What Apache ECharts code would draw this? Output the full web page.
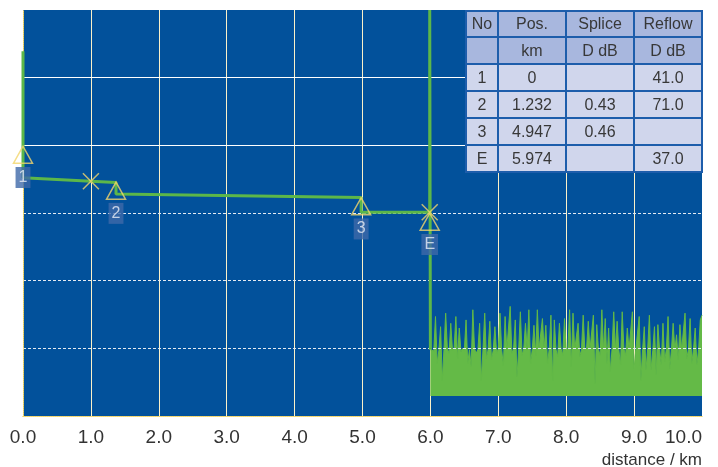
<!DOCTYPE html>
<html>
<head>
<meta charset="utf-8">
<title>OTDR trace</title>
<script src="https://cdn.jsdelivr.net/npm/echarts/dist/echarts.min.js"></script>
<style>
html, body { margin: 0; padding: 0; background: #fff; }
#chart { width: 718px; height: 467px; }
</style>
</head>
<body>
<div id="chart"></div>
<script>
// x axis ticks
var xTicks = [0, 1, 2, 3, 4, 5, 6, 7, 8, 9, 10];

// fibre trace (km, level)
var traceDist = [0, 0, 1.0, 1.37, 1.37, 4.98, 4.98, 5.99, 5.99, 6.0];
var traceLevel = [5.39, 3.52, 3.47, 3.45, 3.28, 3.23, 3.01, 3.01, 6.0, 0.98];

// events on the trace
var eventNames = ['1', '2', '3', 'E'];
var eventDist = [0, 1.37, 4.98, 5.99];
var eventLevel = [3.86, 3.33, 3.10, 2.87];

// cursors (x marks)
var cursorDist = [1.0, 5.99];
var cursorLevel = [3.47, 3.01];

// upper grid rows drawn as solid lines
var solidRows = [4, 5];

// noise floor after fibre end, sampled every 0.025 km from 6.0 km
var noiseStart = 6.0;
var noiseStep = 0.025;
var noiseBase = 0.295;
var noiseLevel = [
    0.98, 1.00, 0.96, 1.47, 0.78, 0.97, 1.32, 0.53, 0.98, 1.52,
    0.99, 0.93, 1.37, 0.97, 1.01, 1.47, 0.85, 1.30, 0.95, 1.00,
    0.97, 1.42, 0.78, 0.98, 0.73, 1.57, 0.99, 0.93, 0.98, 1.37,
    0.53, 0.99, 1.52, 0.85, 0.98, 1.40, 0.83, 0.97, 1.32, 0.93,
    0.99, 1.52, 0.97, 0.75, 1.47, 0.98, 1.00, 1.62, 0.93, 0.99,
    1.42, 0.58, 0.98, 1.54, 0.90, 0.99, 1.37, 0.97, 1.57, 0.78,
    0.98, 1.34, 0.90, 1.57, 0.99, 0.97, 1.44, 0.98, 1.34, 0.78,
    0.99, 1.49, 0.53, 1.42, 0.98, 0.88, 1.37, 0.99, 0.90, 1.44,
    0.97, 1.00, 1.57, 0.73, 1.52, 0.98, 0.99, 1.37, 0.88, 0.98,
    1.49, 0.97, 1.00, 1.40, 0.98, 0.99, 1.49, 0.48, 1.35, 0.98,
    0.90, 1.57, 0.97, 1.44, 0.78, 1.30, 0.66, 0.99, 1.54, 0.97,
    1.40, 0.98, 0.76, 1.54, 0.99, 0.90, 1.30, 0.98, 1.00, 1.54,
    0.70, 0.98, 0.99, 1.47, 0.53, 0.98, 1.32, 0.68, 0.99, 1.49,
    0.68, 0.97, 1.32, 0.61, 1.35, 0.98, 0.76, 1.37, 0.80, 0.99,
    1.47, 0.70, 0.98, 1.37, 0.97, 1.20, 0.83, 1.35, 0.98, 0.99,
    1.52, 0.85, 0.98, 1.44, 0.78, 0.99, 1.30, 0.76, 0.98, 1.42,
    1.49
];

// event table
var tableHead = ['No', 'Pos.', 'Splice', 'Reflow'];
var tableUnits = ['', 'km', 'D dB', 'D dB'];
var tableRows = [
    ['1', '0', '', '41.0'],
    ['2', '1.232', '0.43', '71.0'],
    ['3', '4.947', '0.46', ''],
    ['E', '5.974', '', '37.0']
];

var FONT = '"Liberation Sans", Arial, sans-serif';
var YELLOW = '#f3d66c';

var echart = echarts.init(document.getElementById('chart'));

// table cells as graphic elements
var colX = [466, 498, 566, 634, 702];
var rowY = [11, 37, 64, 91, 118, 145, 172];
var tableElems = [];
[tableHead, tableUnits].concat(tableRows).forEach(function (row, r) {
    row.forEach(function (txt, c) {
        tableElems.push({
            type: 'rect',
            z: 100,
            shape: { x: colX[c], y: rowY[r], width: colX[c + 1] - colX[c], height: rowY[r + 1] - rowY[r] },
            style: { fill: r < 2 ? '#a8b7de' : '#d0d6ec', stroke: '#1d5dab', lineWidth: 2 }
        });
        tableElems.push({
            type: 'text',
            z: 101,
            x: (colX[c] + colX[c + 1]) / 2,
            y: (rowY[r] + rowY[r + 1]) / 2 + 1,
            style: {
                text: txt,
                fill: '#383838',
                font: '16px ' + FONT,
                align: 'center',
                verticalAlign: 'middle',
                textAlign: 'center',
                textVerticalAlign: 'middle'
            }
        });
    });
});
tableElems.push({
    type: 'text',
    z: 101,
    x: 702,
    y: 460,
    style: {
        text: 'distance / km',
        fill: '#333',
        font: '17px ' + FONT,
        align: 'right',
        verticalAlign: 'middle',
        textAlign: 'right',
        textVerticalAlign: 'middle'
    }
});

var noiseData = noiseLevel.map(function (v, i) {
    return [noiseStart + i * noiseStep, v];
});

var option = {
    animation: false,
    grid: {
        left: 23,
        right: 16,
        top: 10,
        bottom: 51,
        containLabel: false,
        outerBoundsMode: 'none',
        show: true,
        backgroundColor: '#02519b',
        borderWidth: 0
    },
    xAxis: [{
        type: 'value',
        min: 0,
        max: 10,
        interval: 1,
        axisLine: {
            show: true,
            lineStyle: { color: YELLOW, type: 'dotted', width: 1 }
        },
        axisTick: { show: false },
        axisLabel: {
            color: '#333',
            fontSize: 19,
            fontFamily: FONT,
            margin: 12,
            alignMaxLabel: 'right',
            formatter: function (v) { return v.toFixed(1); }
        },
        splitLine: {
            show: true,
            showMinLine: false,
            showMaxLine: false,
            lineStyle: { color: '#fbf1c8', width: 1 }
        }
    }, {
        type: 'value',
        position: 'top',
        min: 0,
        max: 10,
        axisLine: {
            show: true,
            lineStyle: { color: YELLOW, type: 'dotted', width: 1 }
        },
        axisTick: { show: false },
        axisLabel: { show: false },
        splitLine: { show: false }
    }],
    yAxis: [{
        type: 'value',
        min: 0,
        max: 6,
        interval: 1,
        z: 3,
        axisLine: {
            show: true,
            lineStyle: { color: YELLOW, type: 'dotted', width: 1 }
        },
        axisTick: { show: false },
        axisLabel: { show: false },
        splitLine: {
            show: true,
            showMinLine: false,
            showMaxLine: false,
            lineStyle: { color: '#e4eaf2', width: 1, type: [3, 2] }
        }
    }, {
        type: 'value',
        position: 'right',
        min: 0,
        max: 6,
        axisLine: {
            show: true,
            lineStyle: { color: YELLOW, type: 'dotted', width: 1 }
        },
        axisTick: { show: false },
        axisLabel: { show: false },
        splitLine: { show: false }
    }],
    series: [
        {
            name: 'noise',
            type: 'line',
            z: 2,
            symbol: 'none',
            lineStyle: { color: '#62b946', width: 1 },
            areaStyle: { color: '#64ba47', opacity: 1, origin: noiseBase },
            markLine: {
                silent: true,
                symbol: 'none',
                label: { show: false },
                lineStyle: { color: '#ffffff', type: 'solid', width: 1.2 },
                data: solidRows.map(function (v) { return { yAxis: v }; })
            },
            data: noiseData
        },
        {
            name: 'trace',
            type: 'line',
            z: 5,
            clip: false,
            symbol: 'none',
            lineStyle: { color: '#5cb749', width: 3 },
            data: traceDist.map(function (d, i) { return [d, traceLevel[i]]; })
        },
        {
            name: 'cursors',
            type: 'scatter',
            z: 6,
            clip: false,
            symbol: 'path://M0,0L10,10M10,0L0,10',
            symbolSize: 16,
            itemStyle: { color: 'rgba(0,0,0,0)', borderColor: YELLOW, borderWidth: 1.5 },
            data: cursorDist.map(function (d, i) { return [d, cursorLevel[i]]; })
        },
        {
            name: 'events',
            type: 'scatter',
            z: 7,
            clip: false,
            symbol: 'triangle',
            symbolSize: [19, 17],
            itemStyle: { color: 'rgba(0,0,0,0)', borderColor: YELLOW, borderWidth: 1.5 },
            label: {
                show: true,
                position: 'bottom',
                distance: 3,
                formatter: function (p) { return eventNames[p.dataIndex]; },
                backgroundColor: '#3f69a9',
                color: '#e8ecf5',
                fontSize: 16,
                fontFamily: FONT,
                lineHeight: 15,
                padding: [3, 3]
            },
            data: eventDist.map(function (d, i) { return [d, eventLevel[i]]; })
        }
    ],
    graphic: tableElems
};

echart.setOption(option);
</script>
</body>
</html>
